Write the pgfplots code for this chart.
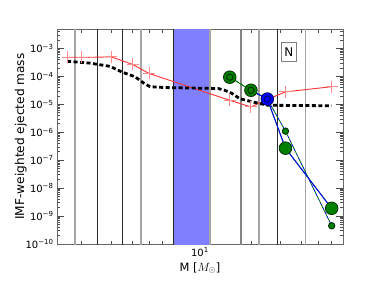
\documentclass[border=0pt]{standalone}
\usepackage{fontspec}
\setmainfont{DejaVu Sans}
\usepackage{pgfplots}
\pgfplotsset{compat=1.18}
\definecolor{bandblue}{RGB}{128,128,255}
\definecolor{redline}{RGB}{255,50,50}
\definecolor{redmark}{RGB}{255,140,140}
\definecolor{mgreen}{RGB}{0,128,0}
\definecolor{mgreenedge}{RGB}{0,45,0}
\definecolor{mblue}{RGB}{0,0,255}
\definecolor{mblueedge}{RGB}{0,0,90}
\definecolor{vgray}{RGB}{165,165,165}
\definecolor{vblack}{RGB}{40,40,40}
\begin{document}
\begin{tikzpicture}
\useasboundingbox (-57bp,-44bp) rectangle (325bp,244bp);
\begin{axis}[
  at={(0,0)}, anchor=south west,
  scale only axis, width=286bp, height=215bp,
  xmode=log, ymode=log,
  xmin=1.43, xmax=70, ymin=1e-10, ymax=5e-3,
  xtick={10}, xticklabels={10\textsuperscript{1}},
  minor xtick={2,3,4,5,6,7,8,9,20,30,40,50,60},
  ytick={1e-10,1e-9,1e-8,1e-7,1e-6,1e-5,1e-4,1e-3},
  yticklabels={10\textsuperscript{−10},10\textsuperscript{−9},10\textsuperscript{−8},10\textsuperscript{−7},10\textsuperscript{−6},10\textsuperscript{−5},10\textsuperscript{−4},10\textsuperscript{−3}},
  minor ytick={2e-10,3e-10,4e-10,5e-10,6e-10,7e-10,8e-10,9e-10,
    2e-9,3e-9,4e-9,5e-9,6e-9,7e-9,8e-9,9e-9,
    2e-8,3e-8,4e-8,5e-8,6e-8,7e-8,8e-8,9e-8,
    2e-7,3e-7,4e-7,5e-7,6e-7,7e-7,8e-7,9e-7,
    2e-6,3e-6,4e-6,5e-6,6e-6,7e-6,8e-6,9e-6,
    2e-5,3e-5,4e-5,5e-5,6e-5,7e-5,8e-5,9e-5,
    2e-4,3e-4,4e-4,5e-4,6e-4,7e-4,8e-4,9e-4,
    2e-3,3e-3,4e-3},
  tick align=inside,
  major tick length=7bp, minor tick length=3.5bp,
  every tick/.style={black!70, line width=0.8bp},
  axis line style={black!60, line width=0.9bp},
  tick label style={font=\fontsize{10}{12}\selectfont},
  xlabel={M [$M_\odot$]},
  ylabel={IMF-weighted ejected mass},
  xlabel style={font=\fontsize{11.5}{13}\selectfont, at={(axis description cs:0.5,-0.1256)}, anchor=base},
  ylabel style={font=\fontsize{12.2}{14}\selectfont, at={(axis description cs:-0.127,0.5)}, anchor=center},
]
% band
\addplot[fill=bandblue, draw=none] coordinates {(7,1e-11) (11.5,1e-11) (11.5,1e-1) (7,1e-1)} -- cycle;
% vertical lines
\addplot[vgray, line width=1.6bp] coordinates {(1.83,1e-11) (1.83,1e-1)};
\addplot[vblack, line width=0.9bp] coordinates {(2.48,1e-11) (2.48,1e-1)};
\addplot[vblack, line width=0.9bp] coordinates {(3.5,1e-11) (3.5,1e-1)};
\addplot[vgray, line width=1.6bp] coordinates {(4.47,1e-11) (4.47,1e-1)};
\addplot[vblack, line width=0.9bp] coordinates {(7,1e-11) (7,1e-1)};
\addplot[vgray, line width=1.6bp] coordinates {(11.5,1e-11) (11.5,1e-1)};
\addplot[vgray!80!black, line width=1.3bp] coordinates {(17.46,1e-11) (17.46,1e-1)};
\addplot[vgray, line width=1.6bp] coordinates {(22.4,1e-11) (22.4,1e-1)};
\addplot[vblack, line width=0.9bp] coordinates {(28.6,1e-11) (28.6,1e-1)};
\addplot[vgray, line width=1.6bp] coordinates {(42,1e-11) (42,1e-1)};
% red line
\addplot[redline, line width=0.9bp, mark=+, mark size=6bp,
  mark options={redmark, line width=0.9bp}] coordinates {
  (1.65,4.8e-4) (2,4.8e-4) (3,5.0e-4) (4,2.7e-4) (5,1.28e-4)
  (15,1.4e-5) (20,8.1e-6) (25,1.5e-5) (32,2.8e-5) (60,4.3e-5)};
% black dotted
\addplot[black, line width=2.8bp, dash pattern=on 4bp off 2.5bp, line cap=butt] coordinates {
  (1.64,3.5e-4) (2.24,3.0e-4) (2.94,2.3e-4) (3.45,1.45e-4) (4.14,9.7e-5)
  (4.63,5.9e-5) (5.07,4.3e-5) (6.2,4.0e-5) (12.8,3.7e-5) (14.0,3.2e-5)
  (15.4,2.5e-5) (17.2,1.6e-5) (19.3,1.34e-5) (22.1,1.1e-5) (25.2,9.3e-6) (60,8.9e-6)};
% dashed lines (small markers)
\addplot[mblue, line width=0.8bp, dash pattern=on 3bp off 2bp] coordinates {
  (20,3.2e-5) (25,1.55e-5) (32,1.1e-6) (60,4.5e-10)};
\addplot[mgreen, line width=0.8bp, dash pattern=on 3bp off 2bp, dash phase=2.5bp] coordinates {
  (15,9.4e-5) (20,3.2e-5) (25,1.55e-5) (32,1.1e-6) (60,4.5e-10)};
% solid lines (large markers)
\addplot[mgreen, line width=0.9bp] coordinates {
  (15,9.4e-5) (20,3.2e-5) (25,1.55e-5) (32,2.7e-7) (60,1.9e-9)};
\addplot[mblue, line width=0.9bp] coordinates {
  (20,3.2e-5) (25,1.55e-5) (32,2.7e-7) (60,1.85e-9)};
% markers
\addplot[only marks, mark=*, mark size=6.3bp, mark options={fill=mgreen, draw=mgreenedge, line width=0.8bp}] coordinates {
  (15,9.4e-5) (20,3.2e-5) (32,2.7e-7) (60,1.9e-9)};
\addplot[only marks, mark=*, mark size=6.3bp, mark options={fill=mblue, draw=mblueedge, line width=0.8bp}] coordinates {
  (25,1.55e-5)};
\addplot[only marks, mark=*, mark size=3.2bp, mark options={fill=mgreen, draw=mgreenedge, line width=0.9bp}] coordinates {
  (15,9.4e-5) (20,3.2e-5) (32,1.1e-6) (60,4.5e-10)};
\addplot[only marks, mark=*, mark size=3.2bp, mark options={fill=mblue, draw=mblueedge, line width=0.9bp}] coordinates {
  (25,1.55e-5)};
\node[draw=black!50, line width=1bp, fill=white, inner sep=0pt, minimum width=15bp, minimum height=19bp,
  font=\fontsize{12}{12}\selectfont] at (axis cs:33.5,7.4e-4) {N};
\end{axis}
\end{tikzpicture}
\end{document}
